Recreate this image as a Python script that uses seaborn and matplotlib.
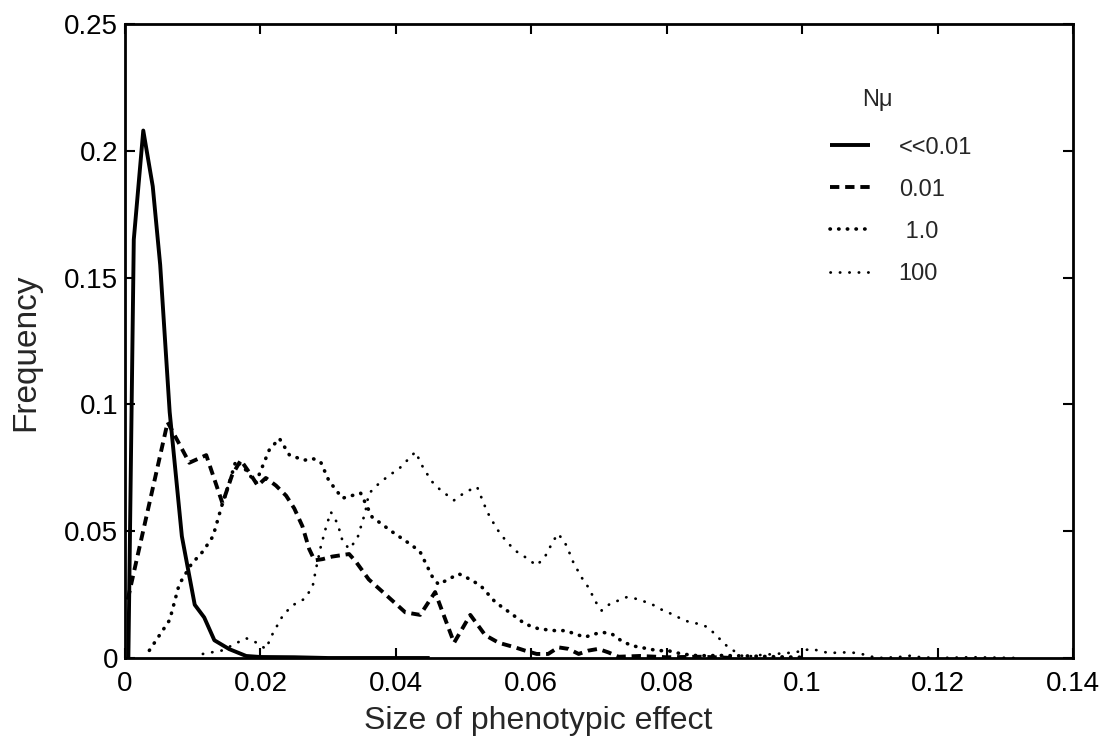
import matplotlib
matplotlib.use("Agg")
import matplotlib.pyplot as plt
import seaborn as sns
import pandas as pd

# ---- data ----
x_solid = [0.0005, 0.0013, 0.0027, 0.0041, 0.0052, 0.0066, 0.0084, 0.0103, 0.0117, 0.0132,
           0.0154, 0.0179, 0.0200, 0.0250, 0.0300, 0.0450]
y_solid = [0.0, 0.165, 0.208, 0.186, 0.155, 0.097, 0.048, 0.021, 0.016, 0.007,
           0.0035, 0.0008, 0.0004, 0.0003, 0.0, 0.0]

x_001 = [0.0004, 0.0063, 0.0095, 0.0120, 0.0144, 0.0158, 0.0171, 0.0184, 0.0196, 0.0208,
         0.0223, 0.0238, 0.0250, 0.0262, 0.0272, 0.0280, 0.0292, 0.0306, 0.0331, 0.0341,
         0.0360, 0.0385, 0.0414, 0.0436, 0.0458, 0.0486, 0.0510, 0.0532, 0.0552, 0.0576,
         0.0591, 0.0608, 0.0625, 0.0640, 0.0655, 0.0670, 0.0684, 0.0699, 0.0714, 0.0729,
         0.0760, 0.0800, 0.0850, 0.0900]
y_001 = [0.023, 0.093, 0.077, 0.080, 0.061, 0.072, 0.078, 0.073, 0.068, 0.071,
         0.068, 0.064, 0.059, 0.052, 0.043, 0.0385, 0.039, 0.040, 0.041, 0.038,
         0.031, 0.025, 0.018, 0.017, 0.026, 0.006, 0.017, 0.009, 0.006, 0.0042,
         0.0029, 0.0016, 0.0016, 0.0042, 0.0036, 0.0016, 0.0029, 0.0036, 0.0022, 0.0005,
         0.0008, 0.0003, 0.0005, 0.0]

x_1 = [0.0036, 0.0066, 0.0080, 0.0098, 0.0115, 0.0130, 0.0144, 0.0154, 0.0164, 0.0179,
       0.0193, 0.0213, 0.0228, 0.0243, 0.0265, 0.0277, 0.0289, 0.0301, 0.0321, 0.0348,
       0.0365, 0.0395, 0.0424, 0.0436, 0.0454, 0.0463, 0.0493, 0.0513, 0.0527, 0.0547,
       0.0571, 0.0591, 0.0611, 0.0635, 0.0650, 0.0665, 0.0679, 0.0694, 0.0706, 0.0719,
       0.0733, 0.0748, 0.0773, 0.0787, 0.0802, 0.0822, 0.0846, 0.0880, 0.0920, 0.0960,
       0.1000]
y_1 = [0.003, 0.015, 0.029, 0.037, 0.042, 0.048, 0.061, 0.069, 0.078, 0.074,
       0.069, 0.082, 0.0866, 0.080, 0.078, 0.0787, 0.0773, 0.070, 0.063, 0.065,
       0.0556, 0.0497, 0.0444, 0.0418, 0.032, 0.029, 0.0332, 0.0306, 0.028, 0.022,
       0.0174, 0.0134, 0.0115, 0.0108, 0.0108, 0.0095, 0.0082, 0.0095, 0.0101, 0.0095,
       0.0068, 0.0049, 0.0036, 0.0029, 0.0029, 0.0016, 0.0009, 0.0010, 0.0008, 0.0005,
       0.0003]

x_100 = [0.0115, 0.0144, 0.0164, 0.0179, 0.0193, 0.0208, 0.0218, 0.0233, 0.0247, 0.0265,
         0.0277, 0.0282, 0.0289, 0.0297, 0.0304, 0.0314, 0.0321, 0.0331, 0.0343, 0.0355,
         0.0360, 0.0375, 0.0390, 0.0405, 0.0417, 0.0429, 0.0441, 0.0454, 0.0466, 0.0486,
         0.0503, 0.0520, 0.0535, 0.0549, 0.0562, 0.0576, 0.0591, 0.0608, 0.0620, 0.0633,
         0.0640, 0.0652, 0.0662, 0.0674, 0.0684, 0.0697, 0.0704, 0.0716, 0.0741, 0.0756,
         0.0770, 0.0782, 0.0795, 0.0807, 0.0822, 0.0834, 0.0849, 0.0861, 0.0871, 0.0881,
         0.0891, 0.0903, 0.0915, 0.0930, 0.0960, 0.0989, 0.1013, 0.1028, 0.1040, 0.1055,
         0.1070, 0.1084, 0.1097, 0.1111, 0.1140, 0.1160, 0.1175, 0.1200, 0.1250, 0.1318]
y_100 = [0.0016, 0.003, 0.0058, 0.0078, 0.0062, 0.0036, 0.0095, 0.0167, 0.0207, 0.0233,
         0.028, 0.035, 0.0437, 0.0517, 0.0576, 0.053, 0.0464, 0.043, 0.047, 0.0576,
         0.0648, 0.0688, 0.072, 0.0747, 0.078, 0.0813, 0.0747, 0.0694, 0.0662, 0.0622,
         0.0655, 0.0675, 0.0576, 0.051, 0.0464, 0.0424, 0.0398, 0.0365, 0.0398, 0.0464,
         0.049, 0.0444, 0.0378, 0.0319, 0.028, 0.0213, 0.0187, 0.0213, 0.024, 0.0233,
         0.022, 0.0207, 0.0187, 0.0174, 0.0154, 0.0141, 0.0134, 0.0121, 0.0095, 0.0068,
         0.0042, 0.0022, 0.0003, 0.0010, 0.0016, 0.0022, 0.0036, 0.0027, 0.0019, 0.0022,
         0.0022, 0.0019, 0.0009, 0.0, 0.0003, 0.0009, 0.0003, 0.0, 0.0003, 0.0]

series_labels = ["<<0.01", "0.01", " 1.0", "100"]
legend_title = "N\u03bc"
x_ticks = [0, 0.02, 0.04, 0.06, 0.08, 0.1, 0.12, 0.14]
x_tick_labels = ["0", "0.02", "0.04", "0.06", "0.08", "0.1", "0.12", "0.14"]
y_ticks = [0, 0.05, 0.1, 0.15, 0.2, 0.25]
y_tick_labels = ["0", "0.05", "0.1", "0.15", "0.2", "0.25"]

# ---- style ----
sns.set_theme(style="ticks")
plt.rcParams["font.family"] = ["Liberation Sans", "DejaVu Sans"]

fig = plt.figure(figsize=(11.1, 7.42), dpi=100)
ax = fig.add_axes([0.1126, 0.1132, 0.854, 0.8544])

styles = [
    dict(lw=2.8, ls="-", cap="butt"),
    dict(lw=2.8, ls=(0, (2.4, 1.5)), cap="butt"),
    dict(lw=2.6, ls=(0, (0.1, 2.3)), cap="round"),
    dict(lw=2.0, ls=(0, (0.1, 3.3)), cap="round"),
]
all_x = [x_solid, x_001, x_1, x_100]
all_y = [y_solid, y_001, y_1, y_100]

handles = []
for xs, ys, lab, st in zip(all_x, all_y, series_labels, styles):
    df = pd.DataFrame({"x": xs, "y": ys})
    n_before = len(ax.lines)
    sns.lineplot(data=df, x="x", y="y", ax=ax, color="black", sort=False,
                 estimator=None, linewidth=st["lw"], linestyle=st["ls"])
    line = ax.lines[n_before]
    line.set_dash_capstyle(st["cap"])
    line.set_solid_capstyle("butt")
    line.set_label(lab)
    handles.append(line)

ax.set_xlim(0, 0.14)
ax.set_ylim(0, 0.25)
ax.set_xticks(x_ticks, x_tick_labels)
ax.set_yticks(y_ticks, y_tick_labels)
ax.tick_params(direction="in", top=True, right=True, length=7, width=1.5,
               labelsize=20, colors="black")
ax.tick_params(axis="x", pad=9)
ax.tick_params(axis="y", pad=5)
for s in ax.spines.values():
    s.set_linewidth(2.0)
    s.set_color("black")
ax.set_xlabel("Size of phenotypic effect", fontsize=23)
ax.set_ylabel("Frequency", fontsize=24)
ax.xaxis.set_label_coords(0.436, -0.075)
ax.yaxis.set_label_coords(-0.088, 0.483)

leg = ax.legend(handles=handles, labels=series_labels,
                loc="upper left", bbox_to_anchor=(0.7215, 0.856), frameon=False,
                fontsize=17, handlelength=1.7, handletextpad=1.2,
                labelspacing=0.85)
ax.text(0.794, 0.880, legend_title, transform=ax.transAxes, fontsize=17,
        ha="center", va="center")

fig.savefig("out.png", dpi=100)
